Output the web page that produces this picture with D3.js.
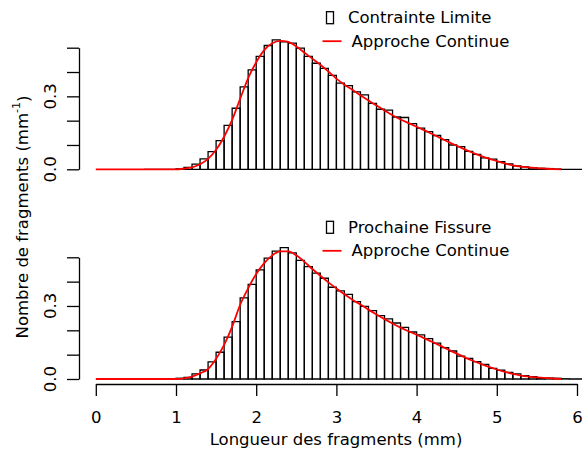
<!DOCTYPE html>
<html>
<head>
<meta charset="utf-8">
<script src="https://cdn.jsdelivr.net/npm/d3@7"></script>
<style>
  body { margin: 0; background: #fff; }
  svg { display: block; }
  text { font-family: "DejaVu Sans", sans-serif; font-size: 16.5px; fill: #000; }
</style>
</head>
<body>
<div id="chart"></div>
<script>
// histogram bins (left edge, width 0.1 mm)
const binStarts = [0.6, 0.7, 0.8, 0.9, 1.0, 1.1, 1.2, 1.3, 1.4, 1.5, 1.6, 1.7, 1.8, 1.9,
  2.0, 2.1, 2.2, 2.3, 2.4, 2.5, 2.6, 2.7, 2.8, 2.9, 3.0, 3.1, 3.2, 3.3, 3.4, 3.5, 3.6,
  3.7, 3.8, 3.9, 4.0, 4.1, 4.2, 4.3, 4.4, 4.5, 4.6, 4.7, 4.8, 4.9, 5.0, 5.1, 5.2, 5.3,
  5.4, 5.5, 5.6, 5.7, 5.8, 5.9, 6.0];
const binWidth = 0.1;

// Contrainte Limite
const topCounts = [0, 0, 0, 0, 0.002, 0.008, 0.021, 0.043, 0.073, 0.118, 0.181, 0.251, 0.339, 0.409,
  0.464, 0.509, 0.532, 0.524, 0.519, 0.498, 0.464, 0.436, 0.415, 0.386, 0.354, 0.344, 0.318, 0.306, 0.271, 0.247, 0.243,
  0.215, 0.213, 0.188, 0.169, 0.155, 0.139, 0.122, 0.100, 0.093, 0.074, 0.061, 0.047, 0.042, 0.031, 0.022, 0.014, 0.010,
  0.006, 0.004, 0.003, 0.001, 0, 0, 0];

// Prochaine Fissure
const bottomCounts = [0, 0, 0, 0, 0.003, 0.007, 0.021, 0.037, 0.070, 0.110, 0.172, 0.236, 0.333, 0.389,
  0.448, 0.497, 0.525, 0.540, 0.518, 0.487, 0.462, 0.435, 0.414, 0.377, 0.362, 0.348, 0.318, 0.298, 0.281, 0.260, 0.247,
  0.230, 0.212, 0.193, 0.181, 0.166, 0.147, 0.129, 0.115, 0.094, 0.085, 0.071, 0.060, 0.044, 0.036, 0.027, 0.021, 0.014,
  0.010, 0.006, 0.004, 0.003, 0.001, 0, 0];

// Approche Continue (red curves)
const curveX = [0, 0.5, 1.0, 1.1, 1.2, 1.3, 1.4, 1.5, 1.6, 1.7, 1.8, 1.9, 2.0, 2.1, 2.2, 2.3, 2.4,
  2.5, 2.6, 2.7, 2.8, 2.9, 3.0, 3.1, 3.2, 3.3, 3.4, 3.5, 3.6, 3.7, 3.8, 3.9, 4.0, 4.1, 4.2,
  4.3, 4.4, 4.5, 4.6, 4.7, 4.8, 4.9, 5.0, 5.1, 5.2, 5.3, 5.4, 5.5, 5.6, 5.7, 5.8];
const topCurve = [0, 0, 0, 0.003, 0.008, 0.021, 0.043, 0.080, 0.134, 0.203, 0.290, 0.375, 0.440, 0.490, 0.518, 0.528, 0.524,
  0.505, 0.480, 0.455, 0.430, 0.402, 0.373, 0.348, 0.327, 0.304, 0.283, 0.262, 0.242, 0.222, 0.205, 0.190, 0.175, 0.160, 0.144,
  0.128, 0.112, 0.097, 0.082, 0.068, 0.055, 0.044, 0.034, 0.024, 0.016, 0.011, 0.008, 0.005, 0.003, 0.001, 0];
const bottomCurve = [0, 0, 0, 0.003, 0.010, 0.023, 0.041, 0.083, 0.140, 0.215, 0.305, 0.373, 0.431, 0.476, 0.508, 0.524, 0.524,
  0.508, 0.482, 0.452, 0.424, 0.397, 0.372, 0.348, 0.326, 0.306, 0.285, 0.265, 0.246, 0.228, 0.211, 0.196, 0.182, 0.167, 0.152,
  0.136, 0.120, 0.104, 0.089, 0.075, 0.062, 0.050, 0.039, 0.029, 0.021, 0.014, 0.010, 0.007, 0.005, 0.002, 0];

const yTicks = [0, 0.1, 0.2, 0.3, 0.4, 0.5];
const yLabelled = [0, 0.3];
const xTicks = [0, 1, 2, 3, 4, 5, 6];

const W = 582, H = 452;
const svg = d3.select("#chart").append("svg").attr("width", W).attr("height", H);

const x = d3.scaleLinear().domain([0, 6]).range([95.8, 577]);

function panel(yTop, yBottom, counts, curve, name) {
  const y = d3.scaleLinear().domain([0, 0.5]).range([yBottom, yTop]);
  const g = svg.append("g");

  // bars (paths so empty bins still show their base line)
  g.selectAll("path.bar")
    .data(binStarts.map((s, i) => ({ s: s, v: counts[i] })))
    .join("path")
    .attr("class", "bar")
    .attr("d", d => {
      const x0 = x(d.s), x1 = x(d.s + binWidth), y0 = y(0), y1 = y(d.v);
      return "M" + x0 + "," + y0 + "V" + y1 + "H" + x1 + "V" + y0 + "Z";
    })
    .attr("fill", "none")
    .attr("stroke", "#000")
    .attr("stroke-width", 1.3);

  // continuous curve
  g.append("path")
    .datum(curveX.map((cx, i) => [cx, curve[i]]))
    .attr("fill", "none")
    .attr("stroke", "#ff0000")
    .attr("stroke-width", 1.8)
    .attr("d", d3.line()
      .x(d => x(d[0]))
      .y(d => y(d[1]))
      .curve(d3.curveMonotoneX));

  // y axis
  const ax = g.append("g")
    .attr("transform", "translate(79,0)")
    .call(d3.axisLeft(y).tickValues(yTicks).tickSize(12).tickSizeOuter(0).tickFormat(""));
  ax.selectAll("path, line").attr("stroke", "#000").attr("stroke-width", 1.3);

  g.selectAll("text.ylab")
    .data(yLabelled)
    .join("text")
    .attr("class", "ylab")
    .attr("transform", d => "translate(50," + y(d) + ") rotate(-90)")
    .attr("text-anchor", "middle")
    .attr("dominant-baseline", "central")
    .text(d => d3.format(".1f")(d));

  // legend
  const lx = 330, ly = yTop - 30;
  g.append("rect")
    .attr("x", lx - 3.5).attr("y", ly - 6).attr("width", 7).attr("height", 12)
    .attr("fill", "none").attr("stroke", "#000").attr("stroke-width", 1.3);
  g.append("text").attr("x", 348).attr("y", ly).attr("dominant-baseline", "central").text(name);
  g.append("line")
    .attr("x1", 322.5).attr("x2", 341.5).attr("y1", ly + 23.5).attr("y2", ly + 23.5)
    .attr("stroke", "#ff0000").attr("stroke-width", 1.8);
  g.append("text").attr("x", 351.5).attr("y", ly + 23.5).attr("dominant-baseline", "central").text("Approche Continue");

  return y;
}

panel(47.7, 169.3, topCounts, topCurve, "Contrainte Limite");
panel(257.3, 379, bottomCounts, bottomCurve, "Prochaine Fissure");

// x axis under the lower panel
const xa = svg.append("g")
  .attr("transform", "translate(0,384)")
  .call(d3.axisBottom(x).tickValues(xTicks).tickSize(12).tickSizeOuter(0).tickFormat(d3.format("d")));
xa.selectAll("path, line").attr("stroke", "#000").attr("stroke-width", 1.3);
xa.selectAll("text")
  .attr("y", 33).attr("dy", "0.35em")
  .style("font-family", "DejaVu Sans, sans-serif").style("font-size", "16.5px").attr("fill", "#000");

// axis titles
svg.append("text")
  .attr("x", 336).attr("y", 439)
  .attr("text-anchor", "middle").attr("dominant-baseline", "central")
  .text("Longueur des fragments (mm)");

const yt = svg.append("text")
  .attr("transform", "translate(22,217) rotate(-90)")
  .attr("text-anchor", "middle").attr("dominant-baseline", "central");
yt.append("tspan").text("Nombre de fragments (mm");
yt.append("tspan").attr("font-size", "11px").attr("dy", "-0.55em").text("-1");
yt.append("tspan").attr("dy", "0.4em").text(")");
</script>
</body>
</html>
